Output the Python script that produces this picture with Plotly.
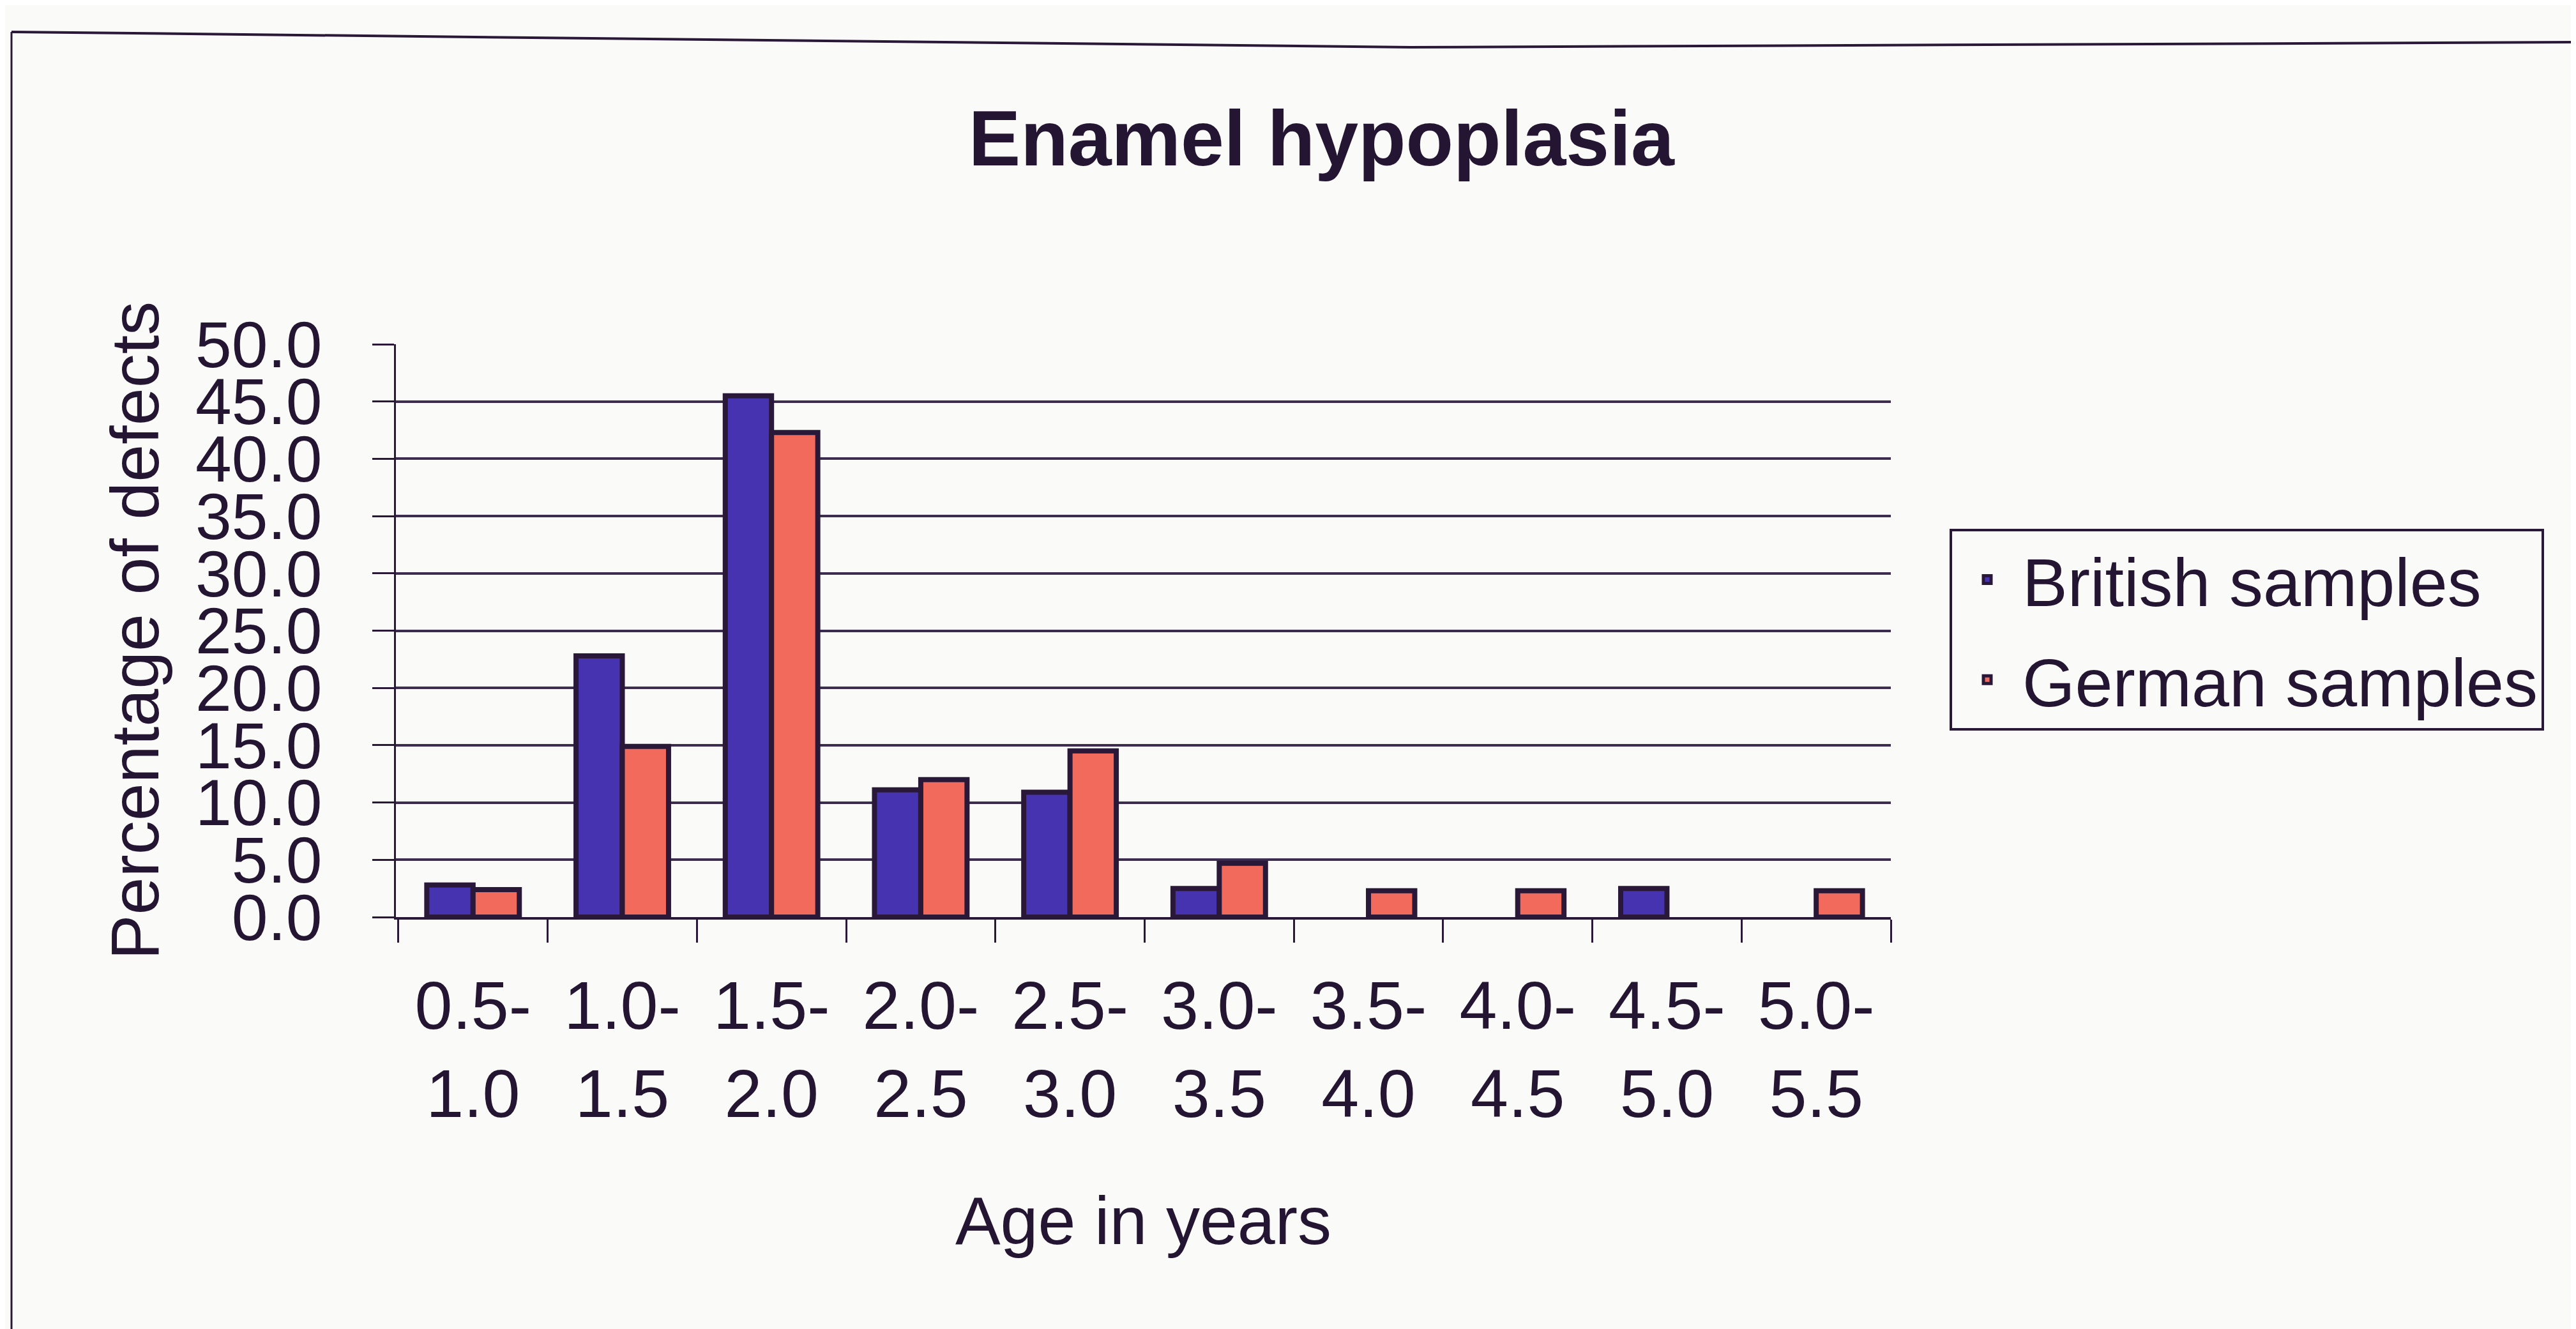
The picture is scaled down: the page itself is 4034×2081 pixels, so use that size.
import plotly.graph_objects as go

categories = ["0.5-1.0", "1.0-1.5", "1.5-2.0", "2.0-2.5", "2.5-3.0",
              "3.0-3.5", "3.5-4.0", "4.0-4.5", "4.5-5.0", "5.0-5.5"]
tick_labels = ["0.5-<br>1.0", "1.0-<br>1.5", "1.5-<br>2.0", "2.0-<br>2.5", "2.5-<br>3.0",
               "3.0-<br>3.5", "3.5-<br>4.0", "4.0-<br>4.5", "4.5-<br>5.0", "5.0-<br>5.5"]
british = [2.8, 22.8, 45.5, 11.1, 10.9, 2.5, None, None, 2.5, None]
german = [2.4, 14.9, 42.3, 12.0, 14.5, 4.7, 2.3, 2.3, None, 2.3]
y_ticks = [0, 5, 10, 15, 20, 25, 30, 35, 40, 45, 50]
grid_ticks = [5, 10, 15, 20, 25, 30, 35, 40, 45]

W, H = 4034, 2081
PL, PR, PT, PB = 612, 2953, 531, 1428

TEXT = "#241632"
EDGE = "#2a1838"
GRID = "#3b2c50"
BLUE = "#4633b0"
SALMON = "#f26a5c"
BG = "#fafaf8"
FONT = "Liberation Sans, Arial, sans-serif"

fig = go.Figure()
fig.add_trace(go.Bar(name="British samples", x=categories, y=british,
                     marker=dict(color=BLUE, line=dict(color=EDGE, width=8)),
                     legendgroup="b"))
fig.add_trace(go.Bar(name="German samples", x=categories, y=german,
                     marker=dict(color=SALMON, line=dict(color=EDGE, width=8)),
                     legendgroup="g"))
# invisible trace to carry the gridline axis
fig.add_trace(go.Scatter(x=[categories[0]], y=[None], yaxis="y2", showlegend=False,
                         hoverinfo="skip"))

fig.update_layout(
    width=W, height=H,
    paper_bgcolor=BG, plot_bgcolor=BG,
    margin=dict(l=PL, r=W - PR, t=PT, b=H - PB, autoexpand=False),
    font=dict(family=FONT, color=TEXT, size=104),
    barmode="group", bargap=0.38, bargroupgap=0.0,
    title=dict(text="<b>Enamel hypoplasia</b>", x=0.511, y=0.9,
               xref="container", yref="container", xanchor="center", yanchor="middle",
               font=dict(size=122, family=FONT, color=TEXT)),
    xaxis=dict(type="category", tickmode="array", tickvals=categories, ticktext=tick_labels,
               tickson="boundaries", ticks="outside", ticklen=36, tickwidth=3, tickcolor=EDGE,
               showline=True, linecolor=EDGE, linewidth=4, showgrid=False,
               tickfont=dict(size=106), ticklabelstandoff=44,
               title=dict(text="Age in years", font=dict(size=106), standoff=105),
               automargin=False),
    yaxis=dict(range=[0, 50], tickmode="array", tickvals=y_ticks, tickformat=".1f",
               ticks="outside", ticklen=34, tickwidth=3, tickcolor=EDGE,
               showline=True, linecolor=EDGE, linewidth=3, showgrid=False, zeroline=False,
               tickfont=dict(size=102), ticklabelstandoff=58,
               title=dict(text="Percentage of defects", font=dict(size=106), standoff=22),
               automargin=False),
    yaxis2=dict(range=[0, 50], overlaying="y", tickmode="array", tickvals=grid_ticks,
                showticklabels=False, ticks="", showgrid=True, gridcolor=GRID, gridwidth=4,
                zeroline=False, showline=False),
    legend=dict(x=(3045 - PL) / (PR - PL), y=(PB - 820) / (PB - PT), xanchor="left", yanchor="top",
                bgcolor=BG, bordercolor=EDGE, borderwidth=4,
                font=dict(size=106, family=FONT, color=TEXT),
                tracegroupgap=16, traceorder="grouped", itemwidth=100),
    shapes=[
        dict(type="line", xref="paper", yref="paper",
             x0=(10 - PL) / (PR - PL), x1=(10 - PL) / (PR - PL),
             y0=(PB - 42) / (PB - PT), y1=(PB - 2100) / (PB - PT),
             line=dict(color=EDGE, width=3)),
        dict(type="line", xref="paper", yref="paper",
             x0=(10 - PL) / (PR - PL), x1=(2200 - PL) / (PR - PL),
             y0=(PB - 42) / (PB - PT), y1=(PB - 66) / (PB - PT),
             line=dict(color=EDGE, width=4)),
        dict(type="line", xref="paper", yref="paper",
             x0=(2200 - PL) / (PR - PL), x1=(4040 - PL) / (PR - PL),
             y0=(PB - 66) / (PB - PT), y1=(PB - 58) / (PB - PT),
             line=dict(color=EDGE, width=4)),
    ],
)

fig.write_html("out.html")
